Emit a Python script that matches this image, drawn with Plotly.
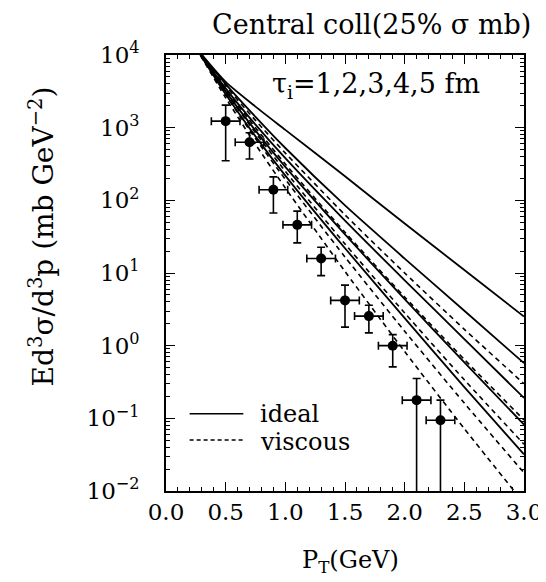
import plotly.graph_objects as go

# ---- data ----
pt_grid = [0.25, 0.5, 0.75, 1.0, 1.5, 2.0, 2.5, 3.0]

ideal_curves = {
    "tau1": [1.26e4, 4.27e3, 1.95e3, 9.33e2, 2.14e2, 4.79e1, 1.10e1, 2.51e0],
    "tau2": [1.26e4, 3.98e3, 1.41e3, 5.25e2, 8.51e1, 1.58e1, 3.02e0, 5.75e-1],
    "tau3": [1.26e4, 3.47e3, 1.10e3, 3.80e2, 5.25e1, 7.94e0, 1.23e0, 1.91e-1],
    "tau4": [1.26e4, 3.16e3, 9.12e2, 2.88e2, 3.39e1, 4.37e0, 5.89e-1, 8.2e-2],
    "tau5": [1.26e4, 2.88e3, 7.59e2, 2.19e2, 2.19e1, 2.40e0, 2.69e-1, 3.2e-2],
}
viscous_curves = {
    "tau1": [1.26e4, 3.76e3, 1.26e3, 4.47e2, 6.31e1, 1.00e1, 1.68e0, 2.99e-1],
    "tau2": [1.26e4, 3.35e3, 1.00e3, 3.16e2, 3.63e1, 4.68e0, 6.46e-1, 9.5e-2],
    "tau3": [1.26e4, 3.09e3, 8.51e2, 2.51e2, 2.51e1, 2.82e0, 3.39e-1, 4.4e-2],
    "tau4": [1.26e4, 2.82e3, 7.08e2, 1.95e2, 1.66e1, 1.58e0, 1.62e-1, 1.78e-2],
    "tau5": [1.26e4, 2.57e3, 5.89e2, 1.48e2, 1.05e1, 8.3e-1, 7.2e-2, 6.8e-3],
}

data_pt = [0.5, 0.7, 0.9, 1.1, 1.3, 1.5, 1.7, 1.9, 2.1, 2.3]
data_y = [1230, 630, 140, 46, 15.8, 4.2, 2.55, 1.0, 0.178, 0.094]
data_err_up = [810, 220, 70, 25, 6.8, 2.6, 1.05, 0.42, 0.175, 0.084]
data_err_down = [880, 260, 73, 20, 6.6, 2.4, 1.05, 0.49, 0.177, 0.0935]
data_pt_err = [0.12, 0.12, 0.12, 0.12, 0.12, 0.12, 0.12, 0.12, 0.12, 0.12]

y_tick_vals = [1e-2, 1e-1, 1e0, 1e1, 1e2, 1e3, 1e4]
y_tick_text = ["10<sup>−2</sup>", "10<sup>−1</sup>", "10<sup>0</sup>", "10<sup>1</sup>",
               "10<sup>2</sup>", "10<sup>3</sup>", "10<sup>4</sup>"]
x_tick_vals = [0.0, 0.5, 1.0, 1.5, 2.0, 2.5, 3.0]
x_tick_text = ["0.0", "0.5", "1.0", "1.5", "2.0", "2.5", "3.0"]

FONT = "DejaVu Serif"

fig = go.Figure()
for name, vals in ideal_curves.items():
    fig.add_trace(go.Scatter(x=pt_grid, y=vals, mode="lines",
                             line=dict(color="black", width=1.8, shape="spline", smoothing=0.6),
                             showlegend=False, hoverinfo="skip"))
for name, vals in viscous_curves.items():
    fig.add_trace(go.Scatter(x=pt_grid, y=vals, mode="lines",
                             line=dict(color="black", width=1.6, dash="5px,4px", shape="spline", smoothing=0.6),
                             showlegend=False, hoverinfo="skip"))

fig.add_trace(go.Scatter(
    x=data_pt, y=data_y, mode="markers",
    marker=dict(color="black", size=10, symbol="circle"),
    error_y=dict(type="data", array=data_err_up, arrayminus=data_err_down, color="black", thickness=1.6, width=4),
    error_x=dict(type="data", array=data_pt_err, color="black", thickness=1.6, width=4),
    showlegend=False))

axis_common = dict(showline=True, linecolor="black", linewidth=1.6, mirror="allticks",
                   ticks="inside", tickcolor="black", tickwidth=1.3, ticklen=9,
                   showgrid=False, zeroline=False)

fig.update_xaxes(range=[0, 3.0], tickvals=x_tick_vals, ticktext=x_tick_text,
                 tickfont=dict(family=FONT, size=23, color="black"), ticklabelstandoff=0,
                 minor=dict(ticks="inside", dtick=0.1, ticklen=4, tickcolor="black", tickwidth=1.2),
                 **axis_common)
fig.update_yaxes(type="log", range=[-2, 4], tickvals=y_tick_vals, ticktext=y_tick_text,
                 tickfont=dict(family=FONT, size=23, color="black"), ticklabelstandoff=20,
                 minor=dict(ticks="inside", dtick="D1", ticklen=4, tickcolor="black", tickwidth=1.2),
                 **axis_common)

fig.update_layout(
    width=546, height=582,
    margin=dict(l=158, r=23, t=47, b=99),
    paper_bgcolor="white", plot_bgcolor="white",
    font=dict(family=FONT, color="black"),
)

fig.add_annotation(text="Central coll(25% σ mb)", xref="paper", yref="paper",
                   x=0.575, y=1.0, yshift=31, xanchor="center", yanchor="middle", showarrow=False,
                   font=dict(family=FONT, size=27, color="black"))
fig.add_annotation(text="τ<sub>i</sub>=1,2,3,4,5 fm", xref="paper", yref="paper",
                   x=0.586, y=0.929, xanchor="center", yanchor="middle", showarrow=False,
                   font=dict(family=FONT, size=27, color="black"))
fig.add_annotation(text="Ed<sup>3</sup>σ/d<sup>3</sup>p (mb GeV<sup>−2</sup>)", xref="paper", yref="paper",
                   x=-0.345, y=0.585, xanchor="center", yanchor="middle", textangle=-90, showarrow=False,
                   font=dict(family=FONT, size=28, color="black"))
fig.add_annotation(text="P<sub>T</sub>(GeV)", xref="paper", yref="paper",
                   x=0.515, y=0, yshift=-70, xanchor="center", yanchor="middle", showarrow=False,
                   font=dict(family=FONT, size=24, color="black"))

# legend
fig.add_shape(type="line", xref="paper", yref="paper", x0=0.066, x1=0.216, y0=0.177, y1=0.177,
              line=dict(color="black", width=1.5))
fig.add_shape(type="line", xref="paper", yref="paper", x0=0.066, x1=0.216, y0=0.117, y1=0.117,
              line=dict(color="black", width=1.3, dash="4px,3px"))
fig.add_annotation(text="ideal", xref="paper", yref="paper", x=0.257, y=0.177,
                   xanchor="left", yanchor="middle", showarrow=False,
                   font=dict(family=FONT, size=24, color="black"))
fig.add_annotation(text="viscous", xref="paper", yref="paper", x=0.257, y=0.113,
                   xanchor="left", yanchor="middle", showarrow=False,
                   font=dict(family=FONT, size=24, color="black"))

fig.write_html("out.html")
